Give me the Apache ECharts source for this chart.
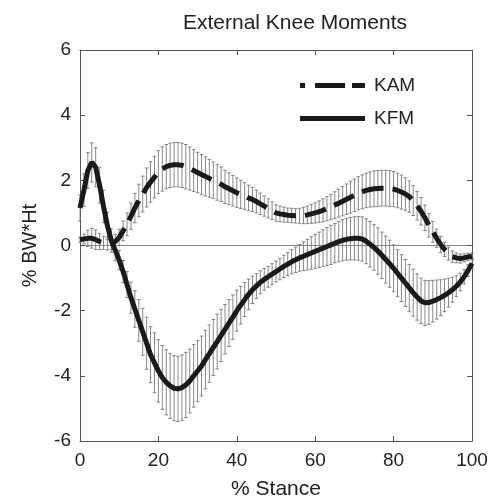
<!DOCTYPE html>
<html>
<head>
<meta charset="utf-8">
<script src="https://cdn.jsdelivr.net/npm/echarts@6/dist/echarts.min.js"></script>
<style>
  html, body { margin: 0; padding: 0; background: #fff; }
  #chart { width: 493px; height: 499px; }
</style>
</head>
<body>
<div id="chart"></div>
<script>
// values, one per 1 % of stance (0..100)
const kamMean = [
  0.18, 0.2, 0.22, 0.22, 0.18, 0.12, 0.08, 0.06, 0.08, 0.12,
  0.25, 0.45, 0.65, 0.9, 1.15, 1.38, 1.58, 1.78, 1.95, 2.1,
  2.25, 2.35, 2.42, 2.46, 2.48, 2.48, 2.46, 2.42, 2.36, 2.3,
  2.24, 2.18, 2.12, 2.06, 2.0, 1.94, 1.88, 1.8, 1.74, 1.68,
  1.62, 1.57, 1.52, 1.46, 1.41, 1.35, 1.28, 1.21, 1.14, 1.07,
  1.0, 0.97, 0.95, 0.93, 0.92, 0.91, 0.91, 0.92, 0.94, 0.97,
  1.0, 1.04, 1.08, 1.13, 1.18, 1.24, 1.3, 1.36, 1.42, 1.48,
  1.54, 1.6, 1.65, 1.69, 1.72, 1.74, 1.75, 1.76, 1.76, 1.75,
  1.73, 1.69, 1.64, 1.58, 1.5, 1.38, 1.22, 1.05, 0.85, 0.62,
  0.42, 0.22, 0.03, -0.12, -0.25, -0.34, -0.38, -0.4, -0.38, -0.35,
  -0.33
];
const kamSd = [
  0.08, 0.15, 0.25, 0.3, 0.3, 0.25, 0.2, 0.2, 0.2, 0.22,
  0.25, 0.3, 0.35, 0.4, 0.45, 0.5, 0.55, 0.6, 0.62, 0.64,
  0.66, 0.68, 0.68, 0.68, 0.68, 0.68, 0.68, 0.68, 0.66, 0.64,
  0.62, 0.61, 0.6, 0.58, 0.56, 0.55, 0.53, 0.51, 0.49, 0.47,
  0.45, 0.43, 0.41, 0.39, 0.37, 0.35, 0.33, 0.31, 0.29, 0.27,
  0.25, 0.24, 0.23, 0.22, 0.22, 0.22, 0.23, 0.25, 0.27, 0.29,
  0.31, 0.33, 0.35, 0.37, 0.39, 0.41, 0.43, 0.45, 0.47, 0.49,
  0.5, 0.51, 0.52, 0.53, 0.54, 0.55, 0.55, 0.55, 0.55, 0.55,
  0.54, 0.53, 0.52, 0.5, 0.48, 0.46, 0.44, 0.42, 0.39, 0.36,
  0.32, 0.28, 0.25, 0.22, 0.2, 0.17, 0.15, 0.14, 0.12, 0.11,
  0.1
];
const kfmMean = [
  1.15, 1.7, 2.3, 2.55, 2.4, 1.85, 1.2, 0.6, 0.15, -0.15,
  -0.45, -0.8, -1.2, -1.6, -1.95, -2.3, -2.65, -3.0, -3.35, -3.6,
  -3.85, -4.05, -4.2, -4.31, -4.38, -4.4, -4.36, -4.28, -4.16, -4.0,
  -3.85, -3.7, -3.5, -3.32, -3.13, -2.95, -2.76, -2.57, -2.38, -2.2,
  -2.0, -1.83, -1.66, -1.5, -1.36, -1.24, -1.13, -1.04, -0.96, -0.88,
  -0.8, -0.72, -0.64, -0.57, -0.5, -0.44, -0.38, -0.33, -0.28, -0.23,
  -0.18, -0.13, -0.08, -0.03, 0.02, 0.07, 0.12, 0.16, 0.19, 0.21,
  0.22, 0.22, 0.2, 0.13, 0.04, -0.06, -0.17, -0.3, -0.43, -0.56,
  -0.7, -0.85, -1.0, -1.15, -1.3, -1.45, -1.58, -1.7, -1.76, -1.75,
  -1.71, -1.66, -1.6, -1.53, -1.45, -1.36, -1.25, -1.12, -0.96, -0.77,
  -0.55
];
const kfmSd = [
  0.4, 0.5, 0.55, 0.6, 0.6, 0.55, 0.5, 0.42, 0.36, 0.32,
  0.3, 0.34, 0.4, 0.48, 0.56, 0.64, 0.72, 0.8, 0.86, 0.92,
  0.96, 0.98, 1.0, 1.0, 1.0, 1.0, 1.0, 1.0, 0.98, 0.96,
  0.94, 0.92, 0.9, 0.88, 0.86, 0.84, 0.8, 0.76, 0.72, 0.68,
  0.63, 0.58, 0.52, 0.47, 0.42, 0.38, 0.35, 0.33, 0.32, 0.32,
  0.32, 0.33, 0.34, 0.35, 0.37, 0.39, 0.41, 0.44, 0.47, 0.5,
  0.52, 0.54, 0.56, 0.58, 0.6, 0.6, 0.62, 0.63, 0.64, 0.65,
  0.66, 0.67, 0.68, 0.69, 0.7, 0.7, 0.71, 0.71, 0.72, 0.72,
  0.72, 0.72, 0.72, 0.72, 0.72, 0.72, 0.71, 0.7, 0.69, 0.67,
  0.64, 0.6, 0.55, 0.5, 0.44, 0.38, 0.32, 0.27, 0.22, 0.18,
  0.15
];

const font = "'Liberation Sans', Arial, sans-serif";
const axisColor = "#555";
const ink = "#1a1a1a";

function linePts(mean) {
  return mean.map((v, i) => [i, v]);
}
function barPts(mean, sd) {
  return mean.map((v, i) => [i, v, sd[i]]);
}

// vertical whisker with a small cap on each end
function errorBar(params, api) {
  const x = api.value(0);
  const m = api.value(1);
  const s = api.value(2);
  const hi = api.coord([x, m + s]);
  const lo = api.coord([x, m - s]);
  const w = 1.8;
  const style = { stroke: "#7a7a7a", lineWidth: 0.9 };
  return {
    type: "group",
    children: [
      { type: "line", shape: { x1: hi[0], y1: hi[1], x2: lo[0], y2: lo[1] }, style: style },
      { type: "line", shape: { x1: hi[0] - w, y1: hi[1], x2: hi[0] + w, y2: hi[1] }, style: style },
      { type: "line", shape: { x1: lo[0] - w, y1: lo[1], x2: lo[0] + w, y2: lo[1] }, style: style },
    ],
  };
}

function boxAxis(pos) {
  const horiz = pos === "top" || pos === "bottom";
  return {
    type: "value",
    position: pos,
    min: horiz ? 0 : -6,
    max: horiz ? 100 : 6,
    interval: horiz ? 20 : 2,
    axisLine: { show: true, onZero: false, lineStyle: { color: axisColor, width: 1 } },
    axisTick: { show: true, inside: true, length: 5, lineStyle: { color: axisColor } },
    axisLabel: { show: false },
    splitLine: { show: false },
  };
}

const labelStyle = { show: true, fontSize: 19, color: "#222", fontFamily: font };

const chart = echarts.init(document.getElementById("chart"));
chart.setOption({
  animation: false,
  textStyle: { fontFamily: font },
  title: {
    text: "External Knee Moments",
    left: 290,
    top: 8,
    textAlign: "center",
    textStyle: { fontFamily: font, fontSize: 21, fontWeight: "normal", color: "#222" },
  },
  legend: {
    data: [
      { name: "KAM", icon: "path://M0,0h5v5h-5z M15,0h30v5h-30z M52,0h13v5h-13z" },
      { name: "KFM", icon: "path://M0,0h65v5h-65z" },
    ],
    orient: "vertical",
    left: 295,
    top: 71,
    itemWidth: 65,
    itemHeight: 5,
    itemGap: 14,
    itemStyle: { color: ink },
    textStyle: { fontFamily: font, fontSize: 19, color: "#222", padding: [0, 0, 0, 4] },
  },
  grid: { left: 80, right: 21, top: 50, bottom: 58, outerBoundsMode: "none", containLabel: false },
  xAxis: [
    Object.assign(boxAxis("bottom"), {
      axisLabel: Object.assign({ margin: 10 }, labelStyle),
      name: "% Stance",
      nameLocation: "middle",
      nameGap: 38,
      nameTextStyle: { fontSize: 21, color: "#222", fontFamily: font },
    }),
    boxAxis("top"),
  ],
  yAxis: [
    Object.assign(boxAxis("left"), {
      axisLabel: Object.assign({ margin: 9 }, labelStyle),
      name: "% BW*Ht",
      nameLocation: "middle",
      nameGap: 40,
      nameTextStyle: { fontSize: 20, color: "#222", fontFamily: font },
    }),
    boxAxis("right"),
  ],
  series: [
    {
      name: "KAM sd",
      type: "custom",
      renderItem: errorBar,
      data: barPts(kamMean, kamSd),
      z: 1,
      silent: true,
    },
    {
      name: "KFM sd",
      type: "custom",
      renderItem: errorBar,
      data: barPts(kfmMean, kfmSd),
      z: 1,
      silent: true,
    },
    {
      name: "KAM",
      type: "line",
      data: linePts(kamMean),
      symbol: "none",
      z: 3,
      lineStyle: { color: ink, width: 5, type: [22, 9], cap: "butt" },
      itemStyle: { color: ink },
      markLine: {
        silent: true,
        symbol: "none",
        label: { show: false },
        lineStyle: { color: "#888", width: 1, type: "solid" },
        data: [{ yAxis: 0 }],
        z: 0,
      },
    },
    {
      name: "KFM",
      type: "line",
      data: linePts(kfmMean),
      symbol: "none",
      z: 3,
      lineStyle: { color: ink, width: 5 },
      itemStyle: { color: ink },
    },
  ],
});
</script>
</body>
</html>
